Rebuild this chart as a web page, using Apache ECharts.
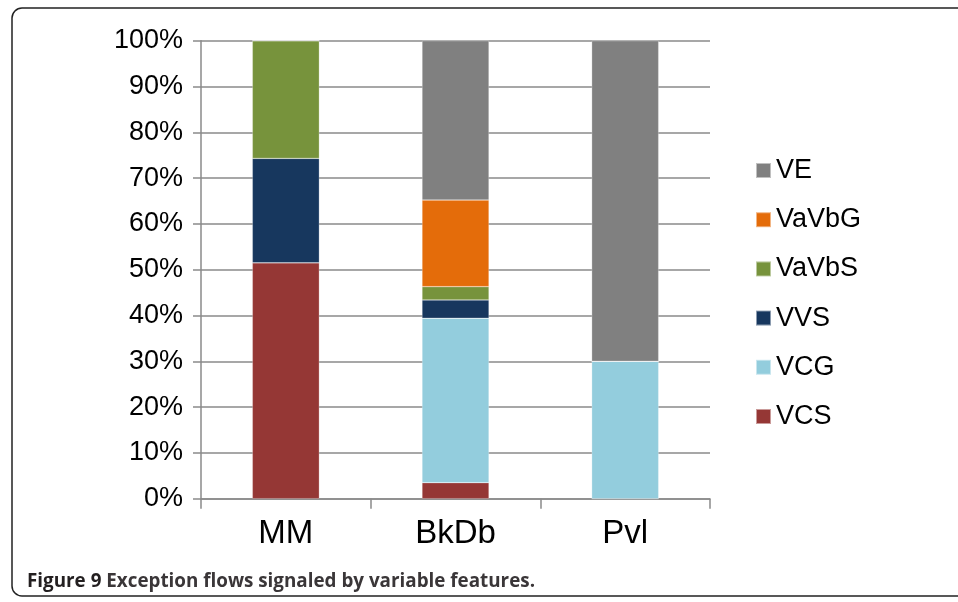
<!DOCTYPE html>
<html>
<head>
<meta charset="utf-8">
<script src="https://cdn.jsdelivr.net/npm/echarts@6/dist/echarts.min.js"></script>
<style>html,body{margin:0;padding:0;background:#fff;}#c{width:958px;height:602px;}</style>
</head>
<body>
<div id="c"></div>
<script>
const categories = ['MM', 'BkDb', 'Pvl'];
const seriesNames = ['VCS', 'VCG', 'VVS', 'VaVbS', 'VaVbG', 'VE'];
const VCS = [51.5, 3.5, 0];
const VCG = [0, 35.9, 30];
const VVS = [22.8, 4.0, 0];
const VaVbS = [25.7, 2.9, 0];
const VaVbG = [0, 18.9, 0];
const VE = [0, 34.8, 70];
const yTicks = [0, 10, 20, 30, 40, 50, 60, 70, 80, 90, 100];
const colors = {VCS:'#953735', VCG:'#93CDDD', VVS:'#17375E', VaVbS:'#77933C', VaVbG:'#E46C0A', VE:'#808080'};
const caption = ['Figure 9', ' Exception flows signaled by variable features.'];

const values = {VCS, VCG, VVS, VaVbS, VaVbG, VE};
const chart = echarts.init(document.getElementById('c'), null, {renderer:'canvas'});

const capFont = 20;
const cv = document.createElement('canvas').getContext('2d');
cv.font = 'bold ' + capFont + 'px "Open Sans"';
const w = cv.measureText(caption[0] + caption[1]).width;
const capScale = 508 / w;

chart.setOption({
  animation: false,
  backgroundColor: '#fff',
  grid: {left: 201, right: 248, top: 40.7, bottom: 103.3},
  xAxis: {
    type: 'category', data: categories,
    axisLine: {show: true, lineStyle: {color: '#8a8a8a', width: 1.5}},
    axisTick: {show: true, length: 10, alignWithLabel: false, lineStyle: {color: '#8a8a8a', width: 1.5}},
    axisLabel: {fontFamily: 'Liberation Sans, Arial', fontSize: 33, color: '#000', margin: 19}
  },
  yAxis: {
    type: 'value', min: 0, max: 100, interval: 10,
    axisLine: {show: true, lineStyle: {color: '#8a8a8a', width: 1.5}},
    axisTick: {show: true, length: 8, lineStyle: {color: '#8a8a8a', width: 1.5}},
    splitLine: {show: true, lineStyle: {color: '#8a8a8a', width: 1.5}},
    axisLabel: {fontFamily: 'Liberation Sans, Arial', fontSize: 27, color: '#000', margin: 18,
      formatter: v => yTicks.includes(v) ? v + '%' : ''}
  },
  legend: {
    data: seriesNames.slice().reverse(),
    orient: 'vertical', left: 755, top: 157, padding: 0,
    itemWidth: 15, itemHeight: 15, itemGap: 22.2,
    icon: 'rect',
    textStyle: {fontFamily: 'Liberation Sans, Arial', fontSize: 27, color: '#000', lineHeight: 27}
  },
  series: seriesNames.map(n => ({
    name: n, type: 'bar', stack: 'all', data: values[n],
    barWidth: 67,
    itemStyle: {color: colors[n], borderColor: 'rgba(255,255,255,0.5)', borderWidth: 0.5}
  })),
  graphic: [
    {type: 'rect', shape: {x: 12, y: 8, width: 970, height: 588, r: 10}, style: {fill: 'none', stroke: '#222', lineWidth: 1.5}, z: 100},
    {type: 'text', x: 27, y: 581, scaleX: capScale, originX: 0, z: 100,
      style: {text: '{b|' + caption[0] + '}{r|' + caption[1] + '}', verticalAlign: 'middle',
        rich: {b: {fontFamily: 'Open Sans', fontWeight: 'bold', fontSize: capFont, fill: '#231f20'},
               r: {fontFamily: 'Open Sans', fontWeight: 'bold', fontSize: capFont, fill: '#3a3638'}}}}
  ]
});
</script>
</body>
</html>
